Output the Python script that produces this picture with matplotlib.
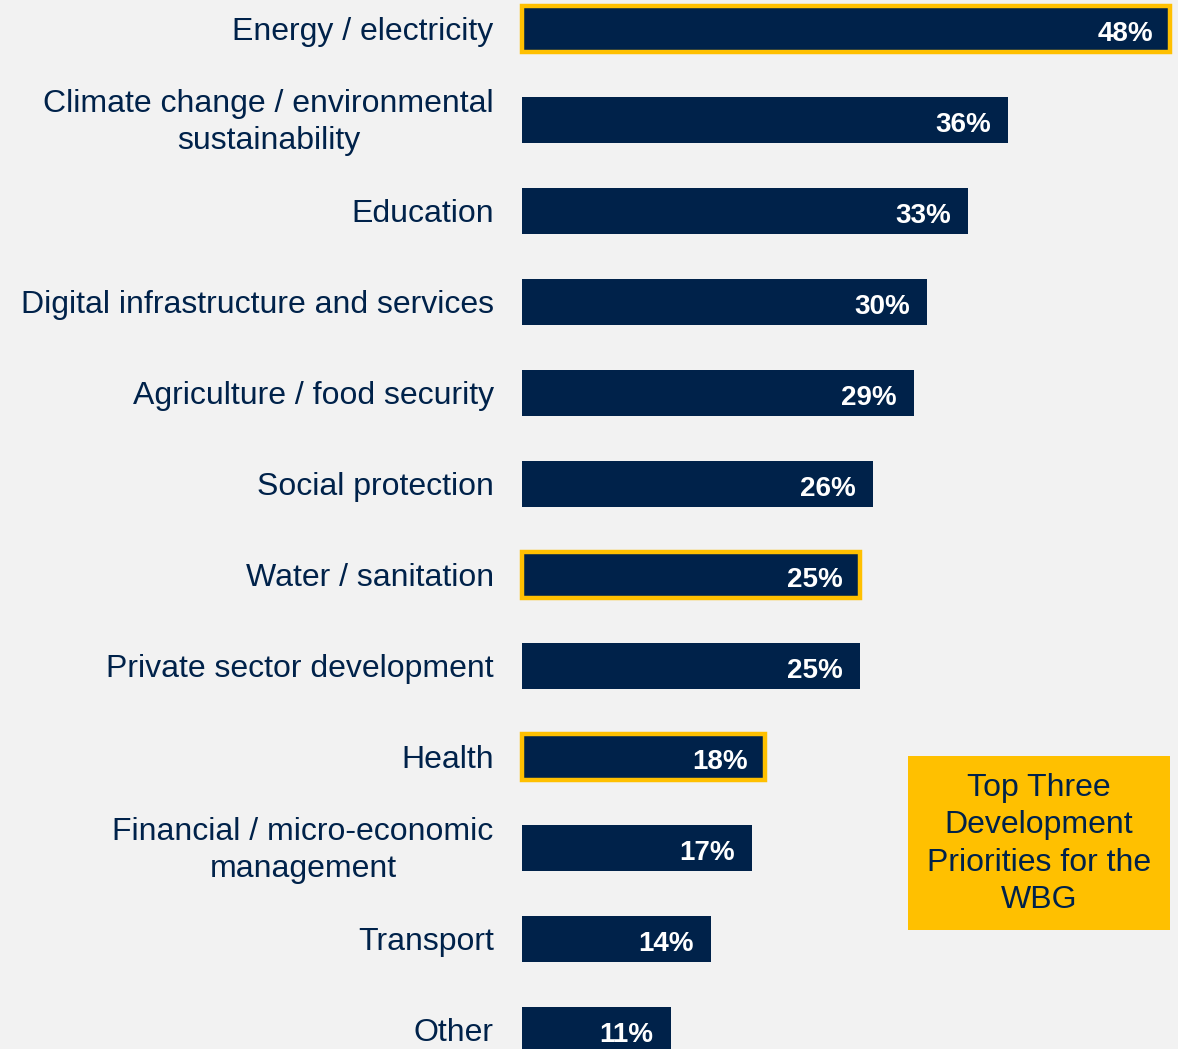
import matplotlib
matplotlib.use("Agg")
import matplotlib.pyplot as plt
from matplotlib.patches import Rectangle

categories = [
    "Energy / electricity",
    "Climate change / environmental\nsustainability",
    "Education",
    "Digital infrastructure and services",
    "Agriculture / food security",
    "Social protection",
    "Water / sanitation",
    "Private sector development",
    "Health",
    "Financial / micro-economic\nmanagement",
    "Transport",
    "Other",
]
values = [48, 36, 33, 30, 29, 26, 25, 25, 18, 17, 14, 11]
top_three = ["Energy / electricity", "Water / sanitation", "Health"]
legend_text = "Top Three\nDevelopment\nPriorities for the\nWBG"

NAVY = "#00224A"
GOLD = "#FFC000"
BG = "#F2F2F2"

plt.rcParams["font.family"] = ["Liberation Sans", "DejaVu Sans"]

W, H = 1178, 1049
fig = plt.figure(figsize=(W / 100, H / 100), dpi=100, facecolor=BG)

# axes spanning x 522..1170 px, full height
ax = fig.add_axes([522 / W, 0, 648 / W, 1])
ax.set_facecolor(BG)
ax.set_xlim(0, 48)
y0, step = 29, 91
ax.set_ylim((H - y0) / step, -y0 / step)
ax.axis("off")

bar_h = 46 / step
for i, (cat, v) in enumerate(zip(categories, values)):
    hl = cat in top_three
    ax.barh(i, v, height=bar_h, color=NAVY,
            edgecolor=GOLD if hl else NAVY,
            linewidth=3.2 if hl else 0, clip_on=False)
    ax.text(v - 1.25, i + 0.05, f"{v}%", color="white", fontsize=20,
            fontweight="bold", ha="right", va="center")
    ax.text(-2.1, i + 0.03, cat, color=NAVY, fontsize=23, ha="right",
            va="center", multialignment="center", linespacing=1.31)

# legend box
bx0, by0, bx1, by1 = 908, 756, 1170, 930
fig.patches.append(Rectangle((bx0 / W, 1 - by1 / H), (bx1 - bx0) / W,
                             (by1 - by0) / H, transform=fig.transFigure,
                             facecolor=GOLD, edgecolor="none", zorder=5))
fig.text((bx0 + bx1) / 2 / W, 1 - (by0 + by1 + 2) / 2 / H, legend_text,
         color=NAVY, fontsize=23, ha="center", va="center",
         linespacing=1.31, zorder=6)

fig.savefig("out.png", dpi=100, facecolor=BG)
